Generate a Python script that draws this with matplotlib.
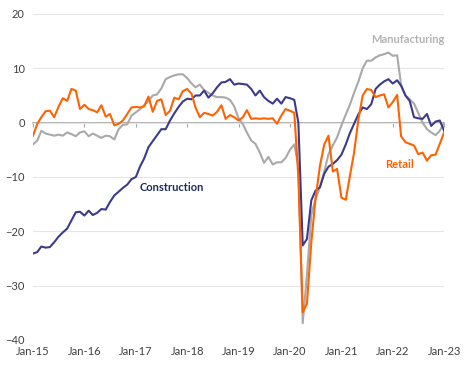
import numpy as np
import pandas as pd
import matplotlib
matplotlib.use('Agg')
import matplotlib.pyplot as plt
import matplotlib.dates as mdates

# monthly confidence indicators, Jan-15 .. Jan-23
dates = pd.date_range('2015-01-01', periods=97, freq='MS')

construction = [
    -24.1, -23.8, -22.8, -23.0, -22.9, -22.0, -21.0, -20.2, -19.5, -18.0, -16.5, -16.4,
    -17.1, -16.2, -17.0, -16.6, -15.9, -16.0, -14.6, -13.4, -12.7, -12.0, -11.4, -10.4,
    -10.0, -8.0, -6.6, -4.5, -3.4, -2.3, -1.2, -1.2, 0.4, 1.7, 2.9, 3.9,
    4.4, 4.3, 5.0, 5.0, 5.9, 4.6, 5.4, 6.5, 7.4, 7.5, 8.0, 7.0,
    7.2, 7.1, 7.0, 6.2, 5.0, 5.9, 4.7, 4.0, 3.5, 4.4, 3.5, 4.7,
    4.5, 4.2, 0.0, -22.6, -21.4, -14.3, -12.5, -11.9, -9.4, -8.1, -7.6, -6.9,
    -5.9, -4.0, -2.0, -0.2, 1.5, 2.8, 2.5, 3.4, 6.2, 7.0, 7.6, 8.0,
    7.2, 7.8, 6.8, 5.0, 4.0, 1.0, 0.8, 0.7, 1.6, -0.6, 0.2, 0.4,
    -1.5,
]

manufacturing = [
    -4.0, -3.3, -1.5, -2.0, -2.2, -2.4, -2.2, -2.4, -1.8, -2.1, -2.5, -1.8,
    -1.6, -2.5, -2.0, -2.4, -2.8, -2.4, -2.5, -3.1, -1.2, -0.4, -0.3, 1.3,
    1.9, 2.5, 3.2, 4.0, 5.0, 5.2, 6.3, 8.0, 8.4, 8.7, 8.9, 8.9,
    8.2, 7.2, 6.5, 7.0, 6.0, 5.5, 5.0, 4.7, 4.7, 4.6, 4.2, 3.0,
    0.8, -0.3, -1.8, -3.3, -3.9, -5.5, -7.4, -6.3, -7.7, -7.3, -7.3, -6.5,
    -5.0, -4.0, -8.0, -36.9, -28.0, -17.0, -14.0, -11.9, -9.0, -5.8, -4.2, -2.7,
    -0.5, 1.5, 3.2, 5.5, 7.5, 10.0, 11.4, 11.4, 12.0, 12.4, 12.6, 12.9,
    12.3, 12.4, 7.0, 5.0, 4.3, 3.5, 1.8, 0.0, -1.2, -1.8, -2.3, -1.5,
    0.0,
]

retail = [
    -2.4, -0.2, 1.0, 2.1, 2.2, 1.0, 2.9, 4.5, 4.0, 6.2, 5.9, 2.5,
    3.3, 2.5, 2.3, 1.9, 3.2, 1.1, 1.6, -0.5, -0.2, 0.4, 1.6, 2.8,
    2.9, 2.8, 3.0, 4.8, 2.0, 4.0, 4.3, 1.4, 2.2, 4.6, 4.3, 5.8,
    6.2, 5.3, 2.8, 1.0, 1.8, 1.6, 1.3, 2.0, 3.2, 0.7, 1.4, 1.0,
    0.4, 1.0, 2.3, 0.7, 0.8, 0.7, 0.8, 0.7, 0.8, -0.2, 1.3, 2.5,
    2.2, 1.8, -10.0, -34.9, -33.3, -22.0, -14.0, -8.0, -4.0, -2.4, -9.0, -8.5,
    -13.8, -14.2, -10.0, -5.5, 0.5, 5.0, 6.2, 6.0, 4.7, 5.0, 5.2, 2.8,
    3.8, 5.1, -2.5, -3.6, -3.9, -4.2, -5.8, -5.5, -7.0, -6.0, -5.9, -3.9,
    -1.8,
]

tick_dates = pd.date_range('2015-01-01', '2023-01-01', freq='YS')
tick_labels = ['Jan-15', 'Jan-16', 'Jan-17', 'Jan-18', 'Jan-19',
               'Jan-20', 'Jan-21', 'Jan-22', 'Jan-23']
y_ticks = [20, 10, 0, -10, -20, -30, -40]

c_con = '#3d3a8c'
c_man = '#a9a9a9'
c_ret = '#ff6200'

plt.rcParams['font.family'] = ['Lato', 'DejaVu Sans']

x = mdates.date2num(dates)
xt = mdates.date2num(tick_dates)

fig = plt.figure(figsize=(4.74, 3.68), dpi=100)
ax = fig.add_axes([0.0696, 0.0761, 0.8674, 0.8859])

ax.plot(x, manufacturing, color=c_man, lw=1.5)
ax.plot(x, construction, color=c_con, lw=1.5)
ax.plot(x, retail, color=c_ret, lw=1.5)

ax.set_xlim(xt[0], xt[-1])
ax.set_ylim(-40, 20)
ax.set_yticks(y_ticks)
ax.set_xticks(xt)
ax.set_xticklabels(tick_labels)
ax.grid(axis='y', color='#e6e6e6', lw=0.8)
ax.set_axisbelow(True)
for s in ax.spines.values():
    s.set_visible(False)
ax.tick_params(axis='both', length=0, labelsize=8, colors='#404040')
ax.tick_params(axis='x', pad=4)
ax.tick_params(axis='y', pad=6)

# zero line with year ticks
sec = ax.secondary_xaxis(0, transform=ax.transData)
sec.set_xticks(xt)
sec.tick_params(labelbottom=False, length=3, width=0.8, color='#a6a6a6')
sec.spines['bottom'].set_color('#a6a6a6')
sec.spines['bottom'].set_linewidth(1.2)

ax.text(mdates.date2num(pd.Timestamp('2017-09-15')), -12, 'Construction',
        color='#1f2a5e', fontsize=8, fontweight='bold', ha='center', va='center')
ax.text(mdates.date2num(pd.Timestamp('2022-04-15')), 15.3, 'Manufacturing',
        color='#b3b3b3', fontsize=8, fontweight='bold', ha='center', va='center')
ax.text(mdates.date2num(pd.Timestamp('2022-02-20')), -7.7, 'Retail',
        color=c_ret, fontsize=8, fontweight='bold', ha='center', va='center')

plt.savefig('out.png', dpi=100)
